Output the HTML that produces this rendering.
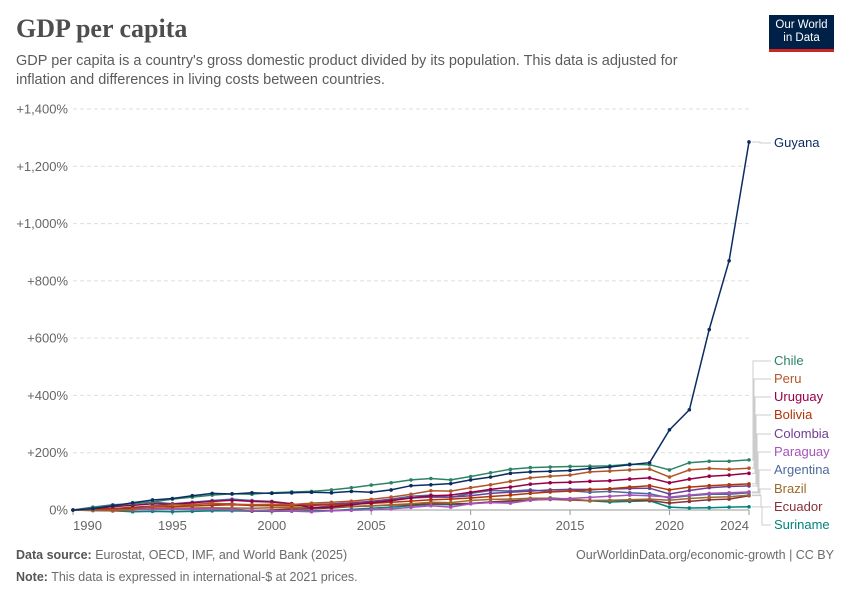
<!DOCTYPE html>
<html><head><meta charset="utf-8">
<style>
body{margin:0;background:#fff;font-family:"Liberation Sans",sans-serif;}
#wrap{position:relative;width:850px;height:600px;overflow:hidden;}
.title{position:absolute;left:16px;top:14px;font-family:"Liberation Serif",serif;font-size:26px;color:#4e4e4e;font-weight:bold;}
.sub{position:absolute;left:16px;top:52px;width:690px;font-size:14.5px;line-height:19px;color:#5b5b5b;}
.logo{position:absolute;left:769px;top:15px;width:65px;height:37px;background:#002147;color:#fff;font-size:11.5px;line-height:13px;text-align:center;padding-top:4px;box-sizing:border-box;border-bottom:3px solid #ce261e;}
.foot{position:absolute;font-size:12.5px;color:#6b6b6b;}
.foot b{color:#555;font-weight:bold;}
</style></head><body>
<div id="wrap">
<div class="title">GDP per capita</div>
<div class="sub">GDP per capita is a country's gross domestic product divided by its population. This data is adjusted for inflation and differences in living costs between countries.</div>
<div class="logo">Our World<br>in Data</div>
<svg id="chart" width="850" height="600" style="position:absolute;left:0;top:0"></svg>
<div class="foot" style="left:16px;top:548px"><b>Data source:</b> Eurostat, OECD, IMF, and World Bank (2025)</div>
<div class="foot" style="right:16px;top:548px">OurWorldinData.org/economic-growth | CC BY</div>
<div class="foot" style="left:16px;top:570px"><b>Note:</b> This data is expressed in international-$ at 2021 prices.</div>
</div>
<script>
const years=[];for(let y=1990;y<=2024;y++)years.push(y);
const yTicks=[0,200,400,600,800,1000,1200,1400];
const xTicks=[1990,1995,2000,2005,2010,2015,2020,2024];
const names=["Guyana","Chile","Peru","Uruguay","Bolivia","Colombia","Paraguay","Argentina","Brazil","Ecuador","Suriname"];
const colors=["#0b2d62","#2c8465","#b0562a","#970046","#b13507","#6d3e91","#a652ba","#4c6a9c","#9a6a2e","#883039","#00847e"];
const labelY=[147,365,383,401,419,438,456,474,493,511,529];
const guyana=[0,5,15,25,35,40,50,58,56,60,58,60,62,60,65,62,70,85,88,92,105,115,128,133,135,138,145,150,158,165,280,350,630,870,1285];
const chile=[0,8,15,22,28,38,45,52,57,55,60,63,65,70,78,87,95,105,110,105,117,130,142,148,150,152,153,154,160,158,140,165,170,170,175];
const peru=[0,0,-2,2,12,18,18,24,20,19,20,19,24,27,31,37,45,55,67,66,78,88,100,112,118,122,133,136,140,143,115,140,145,142,146];
const uruguay=[0,4,12,16,22,20,25,30,34,30,28,22,8,10,18,25,32,42,50,52,62,72,80,90,95,97,100,102,108,112,95,108,118,122,128];
const bolivia=[0,3,5,8,10,12,14,16,18,16,15,14,16,18,20,23,27,31,36,38,42,47,52,58,63,66,70,74,80,85,70,80,85,88,91];
const colombia=[0,2,5,9,14,18,20,22,22,15,16,17,18,21,25,30,36,42,45,45,50,58,62,66,70,72,72,73,75,76,56,68,78,82,84];
const paraguay=[0,1,1,0,2,4,3,3,1,-1,-3,-4,-6,-3,-1,1,4,9,15,10,22,26,24,34,38,40,44,48,52,50,45,52,58,60,63];
const argentina=[0,10,18,22,28,22,27,33,38,33,30,22,8,14,22,30,38,48,52,44,58,68,66,70,64,67,62,65,60,57,42,50,55,55,60];
const brazil=[0,-1,-3,0,4,6,7,8,7,6,8,8,9,9,13,15,18,22,27,26,33,37,38,41,41,37,33,34,36,38,34,40,44,46,52];
const ecuador=[0,2,3,3,4,5,5,6,4,-3,0,3,5,7,12,14,17,18,22,21,23,28,32,35,37,35,32,33,34,33,24,30,36,38,50];
const suriname=[0,-2,-3,-6,-5,-6,-5,-3,-3,-4,-5,-4,-3,-2,2,6,10,15,20,18,22,28,30,36,42,38,32,28,30,32,10,7,8,10,11];
const series=[guyana,chile,peru,uruguay,bolivia,colombia,paraguay,argentina,brazil,ecuador,suriname];
const X0=73,X1=749,Y0=510,Y1=109;
const xs=y=>X0+(y-1990)/(2024-1990)*(X1-X0);
const ys=v=>Y0-(v/1400)*(Y0-Y1);
const svg=document.getElementById('chart');const NS="http://www.w3.org/2000/svg";
function mk(t,a){const e=document.createElementNS(NS,t);for(const k in a)e.setAttribute(k,a[k]);svg.appendChild(e);return e;}
yTicks.forEach(v=>{
 const l=mk('line',{x1:X0,x2:X1,y1:ys(v),y2:ys(v),stroke:v===0?'#999':'#ddd','stroke-dasharray':v===0?'':'4,3'});
 
 
 const t=mk('text',{x:68,y:ys(v)+4.5,'text-anchor':'end','font-size':13,fill:'#666','font-family':'Liberation Sans'});
 t.textContent=(v===0?'':'+')+v.toLocaleString('en-US')+'%';
 
 
});
xTicks.forEach((y,i)=>{
 const tk=mk('line',{x1:xs(y),x2:xs(y),y1:Y0,y2:Y0+5,stroke:'#999'});
 
 
 const t=mk('text',{x:xs(y),y:530,'text-anchor':i===0?'start':(i===xTicks.length-1?'end':'middle'),'font-size':13,fill:'#666','font-family':'Liberation Sans'});
 t.textContent=y;
 
 
});
for(let s=series.length-1;s>=0;s--){
 const d=series[s].map((v,i)=>(i?'L':'M')+xs(years[i]).toFixed(1)+','+ys(v).toFixed(1)).join('');
 const p=mk('path',{d:d,fill:'none',stroke:colors[s],'stroke-width':1.5});
 
 
 series[s].forEach((v,i)=>{
  const c=mk('circle',{cx:xs(years[i]),cy:ys(v),r:1.8,fill:colors[s]});
  
  
 });
 const ly=labelY[s];const ey=ys(series[s][series[s].length-1]);
 const con=mk('path',{d:`M${X1+3},${ey}H${s===0?760:752+s}V${ly-4}H771`,fill:'none',stroke:'#ccc','stroke-width':1});
 
 
 const t=mk('text',{x:774,y:ly,'font-size':13,fill:colors[s],'font-family':'Liberation Sans'});
 t.textContent=names[s];
 
 
}
</script>
</body></html>
